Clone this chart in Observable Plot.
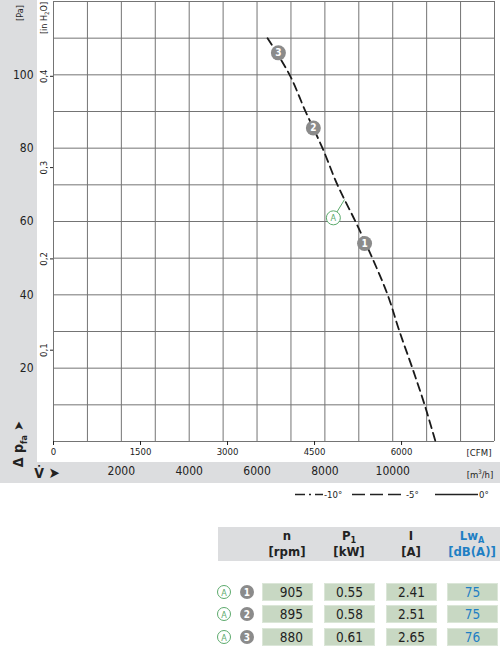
<!DOCTYPE html>
<html><head><meta charset="utf-8">
<script src="https://cdn.jsdelivr.net/npm/d3@7"></script>
<script src="https://cdn.jsdelivr.net/npm/@observablehq/plot@0.6"></script>
<style>
body{margin:0;background:#fff;}
#wrap{position:relative;width:500px;height:647px;overflow:hidden;font-family:"Liberation Sans Narrow","DejaVu Sans Condensed","Roboto",sans-serif;color:#222;}
.bg{position:absolute;background:#dcdddf;}
.abs{position:absolute;white-space:nowrap;line-height:1;}
.rot{transform:translate(-50%,-50%) rotate(-90deg);}
.ctr{transform:translate(-50%,-50%);}
#plot{position:absolute;left:0;top:0;}
.cell{position:absolute;background:#c8d8c3;border:1px solid #dbe6d8;box-sizing:border-box;height:18px;width:51px;font-size:13.5px;line-height:17px;text-align:center;}
.hd{position:absolute;font-weight:bold;font-size:13px;text-align:center;line-height:16px;transform:translateX(-50%);white-space:nowrap;}
sub.s{font-size:9px;line-height:0;vertical-align:-3px;}
</style></head><body><div id="wrap"></div>
<script>
// ---- data ----
const curveFlow = [6310, 6960, 7430, 7930, 8370, 8900, 9400, 9850, 10200, 10580, 10940, 11260]; // m3/h
const curvePressure = [110, 100, 90, 80, 70, 60, 50, 40, 30, 20, 10, 0]; // Pa
const pointIds = ["1", "2", "3"];
const pointFlow = [9170, 7660, 6630];
const pointPressure = [54, 85.5, 106];
const markA = ["A"];
const markAFlow = [8250];
const markAPressure = [61];
const markALinkFlow = [8580];
const markALinkPressure = [66];
const paTicks = [20, 40, 60, 80, 100];
const inH2OTicks = [0.1, 0.2, 0.3, 0.4];
const cfmTicks = [0, 1500, 3000, 4500, 6000];
const m3hTicks = [2000, 4000, 6000, 8000, 10000];
const PA_PER_INH2O = 249;
const M3H_PER_CFM = 1.71;
const legendLabels = ["-10°", "-5°", "0°"];
const headTop = ["n", "P<sub class='s'>1</sub>", "I", "Lw<sub class='s'>A</sub>"];
const headBottom = ["[rpm]", "[kW]", "[A]", "[dB(A)]"];
const speed = [905, 895, 880];
const power = ["0.55", "0.58", "0.61"];
const current = ["2.41", "2.51", "2.65"];
const noise = [75, 75, 76];

const FONT = '"Liberation Sans Narrow","DejaVu Sans Condensed","Roboto",sans-serif';
const GREEN = "#5caa6c", GRAY = "#8b8b8b", BLUE = "#1f7fc4";
const wrap = document.getElementById("wrap");

function add(html, style, cls) {
  const d = document.createElement("div");
  d.className = cls || "abs";
  d.innerHTML = html;
  Object.assign(d.style, style);
  wrap.appendChild(d);
  return d;
}

// backgrounds
add("", {left: "0px", top: "0px", width: "37px", height: "483px"}, "bg");
add("", {left: "37px", top: "462px", width: "463px", height: "21px"}, "bg");

const curve = curveFlow.map((f, i) => ({f, p: curvePressure[i]}));
const points = pointIds.map((id, i) => ({id, f: pointFlow[i], p: pointPressure[i]}));
const aPts = markA.map((id, i) => ({id, f: markAFlow[i], p: markAPressure[i], f2: markALinkFlow[i], p2: markALinkPressure[i]}));

const chart = Plot.plot({
  width: 500, height: 483,
  marginLeft: 53, marginRight: 6, marginTop: 1, marginBottom: 42,
  style: {background: "transparent", fontFamily: FONT, overflow: "visible", color: "#222"},
  x: {domain: [0, 13000], label: null},
  y: {domain: [0, 120], label: null},
  marks: [
    Plot.ruleX(d3.range(0, 13001, 1000), {stroke: "#747474", strokeWidth: 1}),
    Plot.ruleY(d3.range(0, 121, 10), {stroke: "#747474", strokeWidth: 1}),
    Plot.axisY({ticks: paTicks, tickSize: 0, tickPadding: 20, fontSize: 12, tickFormat: d => String(d), label: null}),
    Plot.axisY({ticks: inH2OTicks.map(v => v * PA_PER_INH2O), tickFormat: d => (d / PA_PER_INH2O).toFixed(1).replace(".", ","), tickSize: 3, tickPadding: 4, tickRotate: -90, fontSize: 9.5, label: null}),
    Plot.axisX({ticks: cfmTicks.map(c => c * M3H_PER_CFM), tickFormat: d => String(Math.round(d / M3H_PER_CFM / 100) * 100), tickSize: 4, tickPadding: 3, fontSize: 9.5, label: null}),
    Plot.axisX({ticks: m3hTicks, tickFormat: d => String(d), tickSize: 0, tickPadding: 25, fontSize: 12, label: null}),
    Plot.line(curve, {x: "f", y: "p", curve: "catmull-rom", stroke: "#1a1a1a", strokeWidth: 1.8, strokeDasharray: "8,5"}),
    Plot.link(aPts, {x1: "f", y1: "p", x2: "f2", y2: "p2", stroke: GREEN, strokeWidth: 1}),
    Plot.dot(aPts, {x: "f", y: "p", r: 7, fill: "white", stroke: GREEN, strokeWidth: 1}),
    Plot.text(aPts, {x: "f", y: "p", text: "id", fill: GREEN, fontSize: 9}),
    Plot.dot(points, {x: "f", y: "p", r: 7.5, fill: GRAY}),
    Plot.text(points, {x: "f", y: "p", text: "id", fill: "white", fontWeight: "bold", fontSize: 10})
  ]
});
chart.id = "plot";
wrap.appendChild(chart);

// axis titles / units
add("[Pa]", {left: "20px", top: "13px", fontSize: "9px"}, "abs rot");
add("[in H<sub style='font-size:6px'>2</sub>O]", {left: "45px", top: "18px", fontSize: "9px"}, "abs rot");
add("[CFM]", {left: "479px", top: "453px", fontSize: "9.5px"}, "abs ctr");
add("[m<sup style='font-size:6px'>3</sup>/h]", {left: "480px", top: "474px", fontSize: "9.5px"}, "abs ctr");
add("Δ p<sub style='font-size:9px'>fa</sub> <span style='font-size:13px'>➤</span>", {left: "20px", top: "444px", fontSize: "14px", fontWeight: "bold"}, "abs rot");
add("V&#775; <span style='font-size:15px'>➤</span>", {left: "47px", top: "473px", fontSize: "14px", fontWeight: "bold"}, "abs ctr");

// legend
const leg = d3.select(wrap).append("svg").attr("width", 500).attr("height", 20)
  .style("position", "absolute").style("left", "0px").style("top", "484px");
const legItems = [
  {x1: 295, x2: 323, dash: "10,4,2,4"},
  {x1: 352, x2: 405, dash: "13,5"},
  {x1: 435, x2: 478, dash: null}
];
legItems.forEach((it, i) => {
  leg.append("line").attr("x1", it.x1).attr("x2", it.x2).attr("y1", 10.5).attr("y2", 10.5)
    .attr("stroke", "#222").attr("stroke-width", 1.5).attr("stroke-dasharray", it.dash);
  leg.append("text").attr("x", it.x2 + 1).attr("y", 14).attr("font-size", 9.5)
    .attr("font-family", FONT).attr("fill", "#222").text(legendLabels[i]);
});

// table
add("", {left: "218px", top: "527px", width: "282px", height: "34px", background: "#dcdddf"}, "abs");
const colX = [287, 349, 411, 472];
headTop.forEach((h, i) => {
  const el = add(h + "<br>" + headBottom[i], {left: colX[i] + "px", top: "528px"}, "hd");
  if (i === 3) el.style.color = BLUE;
});
const cellLeft = [262, 324, 386, 447];
const rowTop = [583, 605, 628];
const cols = [speed, power, current, noise];
rowTop.forEach((t, r) => {
  cols.forEach((c, j) => {
    const el = add(String(c[r]), {left: cellLeft[j] + "px", top: t + "px"}, "cell");
    if (j === 0) { el.style.textAlign = "right"; el.style.paddingRight = "9px"; }
    if (j === 3) el.style.color = BLUE;
  });
  const s = d3.select(wrap).append("svg").attr("width", 40).attr("height", 18)
    .style("position", "absolute").style("left", "214px").style("top", t + "px");
  s.append("circle").attr("cx", 10).attr("cy", 9).attr("r", 6.5).attr("fill", "white").attr("stroke", GREEN);
  s.append("text").attr("x", 10).attr("y", 12.5).attr("text-anchor", "middle").attr("font-size", 9)
    .attr("font-family", FONT).attr("fill", GREEN).text("A");
  s.append("circle").attr("cx", 33).attr("cy", 9).attr("r", 7).attr("fill", GRAY);
  s.append("text").attr("x", 33).attr("y", 12.5).attr("text-anchor", "middle").attr("font-size", 10)
    .attr("font-weight", "bold").attr("font-family", FONT).attr("fill", "white").text(pointIds[r]);
});
</script></body></html>
